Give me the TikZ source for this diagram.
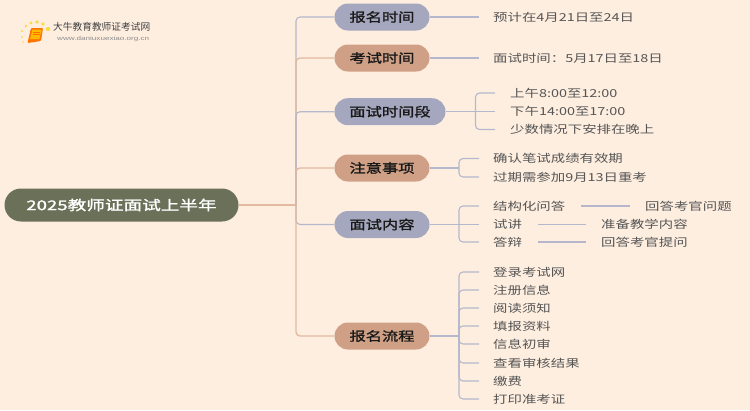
\documentclass[tikz,border=0pt]{standalone}
\usepackage{fontspec}
\setmainfont{Noto Sans CJK SC}
\newfontfamily\cjk[FakeStretch=1.31]{Noto Sans CJK SC}
\newfontfamily\cjkb[FakeStretch=1.3,FakeBold=1.5]{Noto Sans CJK SC}
\newfontfamily\cjkr[FakeStretch=1.38,FakeBold=1.5]{Noto Sans CJK SC}
\newfontfamily\logof{Noto Sans CJK SC}
\newfontfamily\urlf[FakeStretch=1.4]{Liberation Sans}
\definecolor{bgc}{HTML}{FEEEE0}
\definecolor{bluec}{HTML}{A4A7BD}
\definecolor{peach}{HTML}{CFA085}
\definecolor{peachl}{HTML}{E3B9A0}
\definecolor{linec}{HTML}{B5B7CC}
\definecolor{rootc}{HTML}{6B7159}
\definecolor{txt}{HTML}{555555}
\tikzset{
  rootnode/.style={fill=rootc,rounded corners=16.5pt,minimum width=234pt,minimum height=33pt,inner sep=0pt,text=white,font=\cjkr\fontsize{13.5}{14}\selectfont},
  bluenode/.style={fill=bluec,rounded corners=13.5pt,minimum height=27pt,inner sep=0pt,text=black!90,font=\cjkb\fontsize{12.5}{13}\selectfont},
  peachnode/.style={bluenode,fill=peach},
  leaf/.style={anchor=west,inner sep=0pt,text=txt,font=\cjk\fontsize{11}{12}\selectfont},
  bl/.style={draw=linec,line width=1.1pt,rounded corners=4pt},
  pl/.style={draw=peachl,line width=1.3pt,rounded corners=4pt},
  dotc/.style={fill=yellow!70!orange,opacity=.7},
}
\begin{document}
\begin{tikzpicture}[x=1pt,y=-1pt]
\useasboundingbox (0,0) rectangle (750,410);
\fill[bgc] (0,0) rectangle (750,410);
% logo
\foreach \px/\py/\r in {48/29/2.2,43/24/1.8,37/22/1.8,31/23/1.7,26/26/1.4,22/31/1.1,22/37/1,23/42/.8}
  \fill[dotc] (\px,\py) circle (\r);
\fill[orange!90!red,rounded corners=1pt] (31,28) -- (43,28) -- (41,41) -- (27.5,43) -- cycle;
\fill[orange!55!yellow] (32.5,29.5) -- (41.5,29.5) -- (39.5,39) -- (30,39) -- cycle;
\draw[orange!85!red,line width=.5pt] (33,32) -- (40,32) (32.5,34) -- (39.5,34);
\node[anchor=west,inner sep=0pt,text=black!75,font=\logof\fontsize{9.7}{10}\selectfont] (logoa) at (53,27) {大牛教育教师证考试网};
\node[anchor=west,inner sep=0pt,text=black!45,font=\urlf\fontsize{5.8}{6}\selectfont] (logob) at (57,39) {www.daniuxuexiao.org.cn};
% nodes
\node[rootnode] (root) at (121.5,205) {2025教师证面试上半年};
\node[bluenode,minimum width=95pt] (n1) at (382,17) {报名时间};
\node[peachnode,minimum width=95pt] (n2) at (382,58) {考试时间};
\node[bluenode,minimum width=111pt] (n3) at (390,111.7) {面试时间段};
\node[peachnode,minimum width=95pt] (n4) at (382,168) {注意事项};
\node[bluenode,minimum width=95pt] (n5) at (382,224.5) {面试内容};
\node[peachnode,minimum width=95pt] (n6) at (382,336) {报名流程};
\coordinate (bus) at (296,205);
\coordinate (t1) at (479,17);
\coordinate (t2) at (479,58);
\coordinate (j3) at (475.5,111.7);
\coordinate (j4) at (459,168);
\coordinate (j5) at (459,224.5);
\coordinate (j6) at (459,336);
% leaves
\node[leaf] (a1) at (493,17) {预计在4月21日至24日};
\node[leaf] (a2) at (493,58) {面试时间：5月17日至18日};
\node[leaf] (c1) at (510,93) {上午8:00至12:00};
\node[leaf] (c2) at (510,111.7) {下午14:00至17:00};
\node[leaf] (c3) at (510,129.5) {少数情况下安排在晚上};
\node[leaf] (d1) at (493,158.5) {确认笔试成绩有效期};
\node[leaf] (d2) at (493,177) {过期需参加9月13日重考};
\node[leaf] (e1) at (493,206) {结构化问答};
\node[leaf] (e2) at (493,224.5) {试讲};
\node[leaf] (e3) at (493,242) {答辩};
\node[leaf] (f1) at (645,206) {回答考官问题};
\node[leaf] (f2) at (601,224.5) {准备教学内容};
\node[leaf] (f3) at (601,242) {回答考官提问};
\foreach \n/\y/\t in {g1/272/登录考试网,g2/290/注册信息,g3/308/阅读须知,g4/326/填报资料,g5/344/信息初审,g6/363/查看审核结果,g7/381/缴费,g8/399/打印准考证}
  \node[leaf] (\n) at (493,\y) {\t};
% trunk
\draw[pl] (root.east) -- (bus);
\draw[bl] (bus) -- (bus|-n1) -- (n1.west);
\draw[pl] (bus) -- (bus|-n2) -- (n2.west);
\draw[bl] (bus) -- (bus|-n3) -- (n3.west);
\draw[pl] (bus) -- (bus|-n4) -- (n4.west);
\draw[bl] (bus) -- (bus|-n5) -- (n5.west);
\draw[pl] (bus) -- (bus|-n6) -- (n6.west);
% children
\draw[bl] (n1.east) -- (t1);
\draw[bl] (n2.east) -- (t2);
\draw[bl] (n3.east) -- (j3);
\draw[bl] (n4.east) -- (j4);
\draw[bl] (n5.east) -- (j5);
\draw[bl] (n6.east) -- (j6);
\draw[bl] (j3) -- (495,111.7);
\foreach \n in {c1,c3}
  \draw[bl] (j3) -- (j3|-\n.west) -- (495,0|-\n.west);
\foreach \n in {d1,d2}
  \draw[bl] (j4) -- (j4|-\n.west) -- (479,0|-\n.west);
\draw[bl] (j5) -- (479,224.5);
\foreach \n in {e1,e3}
  \draw[bl] (j5) -- (j5|-\n.west) -- (479,0|-\n.west);
\foreach \n in {g1,g2,g3,g4,g5,g6,g7,g8}
  \draw[bl] (j6) -- (j6|-\n.west) -- (479,0|-\n.west);
\draw[bl] (e1.east) ++(16,0) -- (630,206);
\draw[bl] (e2.east) ++(16,0) -- (586,224.5);
\draw[bl] (e3.east) ++(16,0) -- (586,242);
\end{tikzpicture}
\end{document}
